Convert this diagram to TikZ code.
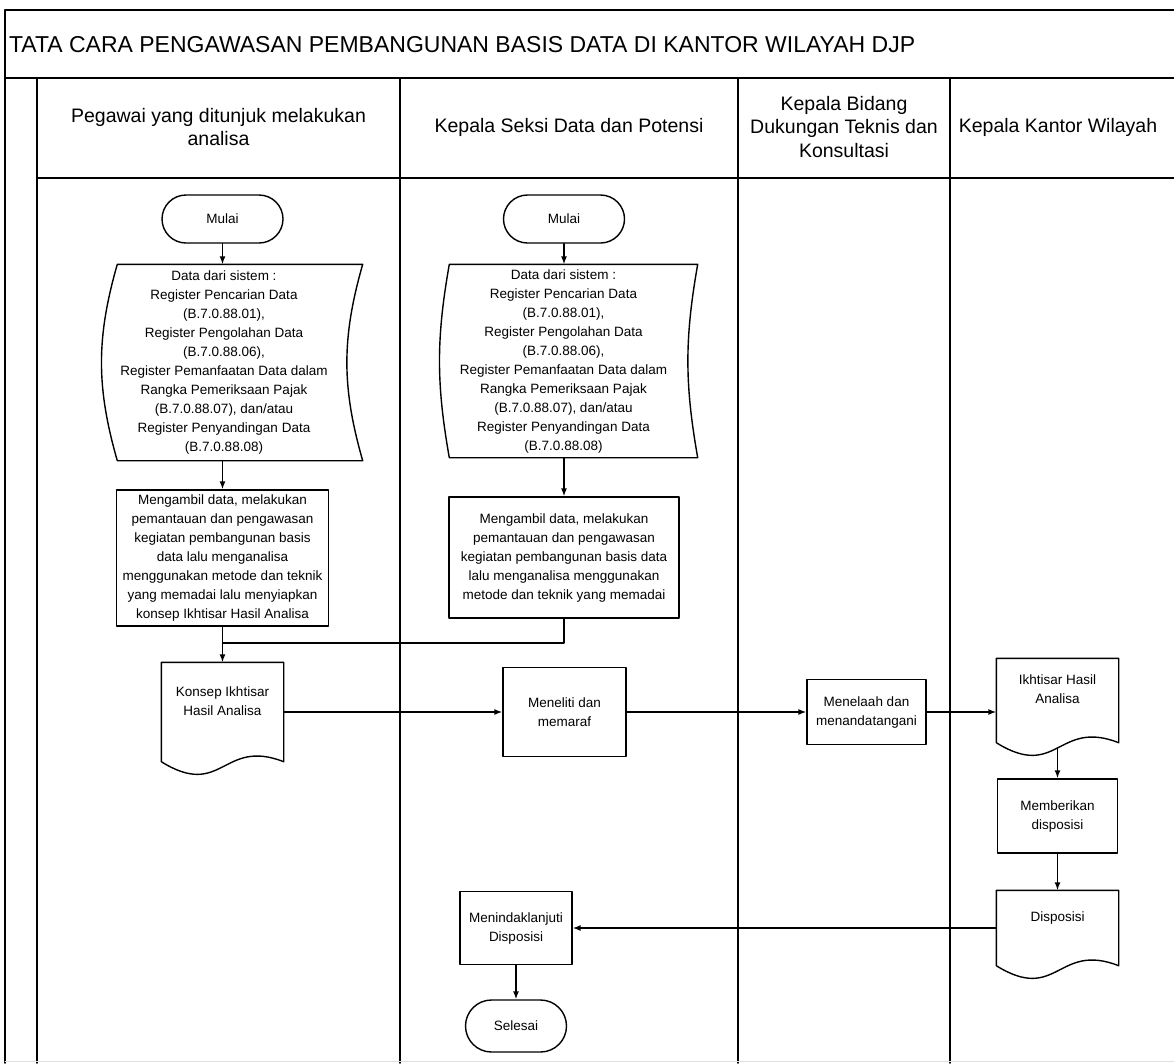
\documentclass[tikz,border=0pt]{standalone}
\usepackage{fontspec}
\setmainfont{Liberation Sans}
\usetikzlibrary{arrows.meta,calc}

\newcommand{\storedline}[3]{%
  \draw[shp] ([xshift=#2pt]#1.north west) -- ([xshift=#2pt]#1.north east)
    to[bend right=#3] ([xshift=#2pt]#1.south east) -- ([xshift=#2pt]#1.south west)
    to[bend left=#3] ([xshift=#2pt]#1.north west) -- cycle;}
\newcommand{\docline}[1]{%
  \draw[shp] (#1.south west) -- (#1.north west) -- (#1.north east) -- (#1.south east)
    .. controls ($(#1.south west)!.5!(#1.south east)+(0,-24)$) and ($(#1.south west)!.5!(#1.south east)+(0,38)$) .. (#1.south west) -- cycle;}

\begin{document}
\begin{tikzpicture}[x=1pt, y=-1pt, line join=round, line cap=round, >={Latex[length=8pt,width=6pt]},
  frame/.style={line width=1.8pt},
  shp/.style={line width=1.4pt},
  head/.style={align=center, font=\fontsize{19.5}{23.5}\selectfont},
  txt/.style={align=center, inner sep=0pt, font=\fontsize{13.5}{19}\selectfont},
  proc/.style={txt, draw, line width=1.4pt},
  term/.style={txt, draw, line width=1.4pt, rounded corners=24pt},
  doc/.style={txt, text depth=22pt},
  every path/.style={line width=1.4pt}]
\useasboundingbox (0,0) rectangle (1174,1063);

\draw[frame] (5,1063) -- (5,10) -- (1174,10);
\draw[frame] (5,78) -- (1174,78);
\draw[frame] (37,1063) -- (37,78);
\draw[frame] (37,178) -- (1174,178);
\foreach \x in {400,738,950} \draw[frame] (\x,78) -- (\x,1063);
\draw[gray!25, line width=1pt] (5,1061) -- (1174,1061);

\node[anchor=west, font=\fontsize{23}{28}\selectfont] (judul) at (5,45) {TATA CARA PENGAWASAN PEMBANGUNAN BASIS DATA DI KANTOR WILAYAH DJP};
\node[head] (hpegawai) at (218.5,127) {Pegawai yang ditunjuk melakukan\\analisa};
\node[head] (hseksi) at (569,127) {Kepala Seksi Data dan Potensi};
\node[head] (hbidang) at (844,127) {Kepala Bidang\\Dukungan Teknis dan\\Konsultasi};
\node[head] (hkanwil) at (1058,127) {Kepala Kantor Wilayah};

% lajur pegawai
\node[term, minimum width=121pt, minimum height=48pt] (mulai1) at (222.5,219) {Mulai};
\node[txt, minimum width=244pt, minimum height=195pt] (data1) at (224,362.5) {Data dari sistem :\\Register Pencarian Data\\(B.7.0.88.01),\\Register Pengolahan Data\\(B.7.0.88.06),\\Register Pemanfaatan Data dalam\\Rangka Pemeriksaan Pajak\\(B.7.0.88.07), dan/atau\\Register Penyandingan Data\\(B.7.0.88.08)};
\storedline{data1}{16}{16}
\node[proc, minimum width=212pt, minimum height=136pt] (analisa1) at (222.5,558) {Mengambil data, melakukan\\pemantauan dan pengawasan\\kegiatan pembangunan basis\\data lalu menganalisa\\menggunakan metode dan teknik\\yang memadai lalu menyiapkan\\konsep Ikhtisar Hasil Analisa};
\node[doc, minimum width=121pt, minimum height=98pt] (konsep) at (222.5,712) {Konsep Ikhtisar\\Hasil Analisa};
\docline{konsep}

% lajur kasi
\node[term, minimum width=121pt, minimum height=48pt] (mulai2) at (564,219) {Mulai};
\node[txt, minimum width=247pt, minimum height=192pt] (data2) at (563.5,361) {Data dari sistem :\\Register Pencarian Data\\(B.7.0.88.01),\\Register Pengolahan Data\\(B.7.0.88.06),\\Register Pemanfaatan Data dalam\\Rangka Pemeriksaan Pajak\\(B.7.0.88.07), dan/atau\\Register Penyandingan Data\\(B.7.0.88.08)};
\storedline{data2}{10}{10}
\node[proc, minimum width=230pt, minimum height=121pt] (analisa2) at (564,557.5) {Mengambil data, melakukan\\pemantauan dan pengawasan\\kegiatan pembangunan basis data\\lalu menganalisa menggunakan\\metode dan teknik yang memadai};
\node[proc, minimum width=123pt, minimum height=89pt] (meneliti) at (564.5,712) {Meneliti dan\\memaraf};
\node[proc, minimum width=112pt, minimum height=73pt] (tindak) at (516,928) {Menindaklanjuti\\Disposisi};
\node[term, minimum width=101pt, minimum height=52pt, rounded corners=26pt] (selesai) at (516,1026) {Selesai};

% lajur kabid
\node[proc, minimum width=119pt, minimum height=65pt] (menelaah) at (866.5,712) {Menelaah dan\\menandatangani};

% lajur kakanwil
\node[doc, minimum width=121pt, minimum height=83pt] (ikhtisar) at (1057.5,700.5) {Ikhtisar Hasil\\Analisa};
\docline{ikhtisar}
\node[proc, minimum width=120pt, minimum height=74pt] (beridispo) at (1057.5,816) {Memberikan\\disposisi};
\node[doc, minimum width=121pt, minimum height=74pt] (disposisi) at (1057.5,928) {Disposisi};
\docline{disposisi}

\coordinate (gabung) at (222.5,643);
\draw[->] (mulai1) -- (data1.north -| mulai1);
\draw[->] (data1.south -| mulai1) -- (analisa1);
\draw[->] (analisa1) -- (konsep);
\draw (analisa2) |- (gabung);
\draw[->] (mulai2) -- (data2.north -| mulai2);
\draw[->] (data2.south -| mulai2) -- (analisa2);
\draw[->] (konsep) -- (meneliti);
\draw[->] (meneliti) -- (menelaah);
\draw[->] (menelaah.east) -- (menelaah.east -| ikhtisar.west);
\draw[->] ([yshift=-5pt]ikhtisar.south) -- (beridispo);
\draw[->] (beridispo) -- (disposisi);
\draw[->] (disposisi) -- (tindak);
\draw[->] (tindak) -- (selesai);
\end{tikzpicture}
\end{document}
